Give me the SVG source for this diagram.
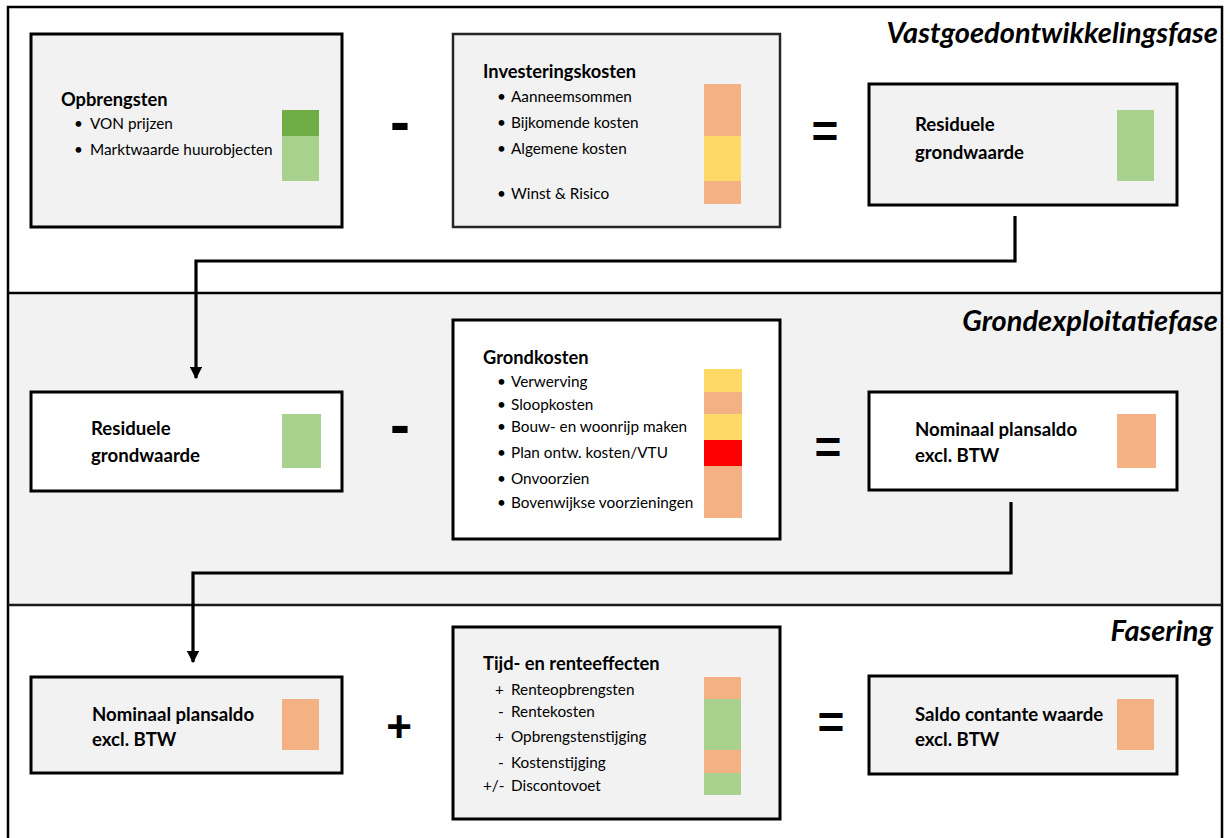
<svg xmlns="http://www.w3.org/2000/svg" width="1230" height="838" viewBox="0 0 1230 838">
<defs>
<style>
.frame{fill:none;stroke:#000;stroke-width:2.5}
.box{stroke:#000;stroke-width:3}
.grey{fill:#f2f2f2}
.white{fill:#fff}
.t{font-family:Lato,"Open Sans","Liberation Sans",sans-serif;fill:#000}
.h{font-size:18.3px;font-weight:bold}
.i{font-size:15.3px}
.b{font-size:18.6px;font-weight:bold}
.phase{font-size:29px;font-weight:bold;font-style:italic;text-anchor:end}
.op{font-family:"Liberation Sans",sans-serif;font-weight:bold;text-anchor:middle}
.conn{fill:none;stroke:#000;stroke-width:3.2}
.g1{fill:#70ad47}.g2{fill:#a9d18e}.o{fill:#f4b183}.y{fill:#ffd966}.r{fill:#ff0000}
</style>
<marker id="arr" viewBox="0 0 10 10" refX="9" refY="5" markerWidth="3.8" markerHeight="3.8" orient="auto" markerUnits="strokeWidth">
<path d="M0,0 L10,5 L0,10 z" fill="#000"/>
</marker>
</defs>
<rect x="0" y="0" width="1230" height="838" fill="#fff"/>
<g id="sections">
<rect x="8" y="293" width="1214" height="312" fill="#f2f2f2"/>
<rect x="8" y="7" width="1214" height="840" class="frame"/>
<line x1="8" y1="293" x2="1222" y2="293" stroke="#000" stroke-width="2.5"/>
<line x1="8" y1="605" x2="1222" y2="605" stroke="#1a1a1a" stroke-width="2.5"/>
<text class="t phase" x="1218" y="43">Vastgoedontwikkelingsfase</text>
<text class="t phase" x="1218" y="331">Grondexploitatiefase</text>
<text class="t phase" x="1213" y="641">Fasering</text>
</g>
<g id="connectors">
<polyline class="conn" points="1015,216 1015,261 196,261 196,378" marker-end="url(#arr)"/>
<polyline class="conn" points="1011,502 1011,573 193,573 193,662" marker-end="url(#arr)"/>
</g>
<g id="opbrengsten">
<rect x="31" y="34" width="311" height="193" class="box grey"/>
<text class="t h" x="61" y="106">Opbrengsten</text>
<text class="t i" x="74" y="129">•</text><text class="t i" x="90" y="129">VON prijzen</text>
<text class="t i" x="74" y="155">•</text><text class="t i" x="90" y="155">Marktwaarde huurobjecten</text>
<rect x="282" y="110" width="37" height="26" class="g1"/>
<rect x="282" y="136" width="37" height="45" class="g2"/>
</g>
<g id="minus1"><text class="op" x="400" y="142" font-size="60">-</text></g>
<g id="investeringskosten">
<rect x="453" y="34" width="327" height="193" class="grey" stroke="#262626" stroke-width="2.5"/>
<text class="t h" x="483" y="78">Investeringskosten</text>
<text class="t i" x="497" y="102">•</text><text class="t i" x="511" y="102">Aanneemsommen</text>
<text class="t i" x="497" y="128">•</text><text class="t i" x="511" y="128">Bijkomende kosten</text>
<text class="t i" x="497" y="154">•</text><text class="t i" x="511" y="154">Algemene kosten</text>
<text class="t i" x="497" y="199">•</text><text class="t i" x="511" y="199">Winst &amp; Risico</text>
<rect x="704" y="84" width="37" height="52" class="o"/>
<rect x="704" y="136" width="37" height="45" class="y"/>
<rect x="704" y="181" width="37" height="23" class="o"/>
</g>
<g id="eq1"><text class="op" x="825" y="147" font-size="46">=</text></g>
<g id="residuele1">
<rect x="869" y="84" width="308" height="121" class="box grey"/>
<text class="t b" x="915" y="131">Residuele</text>
<text class="t b" x="915" y="159">grondwaarde</text>
<rect x="1117" y="110" width="37" height="71" class="g2"/>
</g>
<g id="residuele2">
<rect x="31" y="392" width="311" height="99" class="box white"/>
<text class="t b" x="91" y="435">Residuele</text>
<text class="t b" x="91" y="462">grondwaarde</text>
<rect x="282" y="414" width="39" height="54" class="g2"/>
</g>
<g id="minus2"><text class="op" x="400" y="445" font-size="60">-</text></g>
<g id="grondkosten">
<rect x="453" y="320" width="327" height="219" class="box white"/>
<text class="t h" x="483" y="364">Grondkosten</text>
<text class="t i" x="497" y="387">•</text><text class="t i" x="511" y="387">Verwerving</text>
<text class="t i" x="497" y="410">•</text><text class="t i" x="511" y="410">Sloopkosten</text>
<text class="t i" x="497" y="432">•</text><text class="t i" x="511" y="432">Bouw- en woonrijp maken</text>
<text class="t i" x="497" y="458">•</text><text class="t i" x="511" y="458">Plan ontw. kosten/VTU</text>
<text class="t i" x="497" y="484">•</text><text class="t i" x="511" y="484">Onvoorzien</text>
<text class="t i" x="497" y="508">•</text><text class="t i" x="511" y="508">Bovenwijkse voorzieningen</text>
<rect x="704" y="369" width="38" height="23" class="y"/>
<rect x="704" y="392" width="38" height="22" class="o"/>
<rect x="704" y="414" width="38" height="26" class="y"/>
<rect x="704" y="440" width="38" height="26" class="r"/>
<rect x="704" y="466" width="38" height="52" class="o"/>
</g>
<g id="eq2"><text class="op" x="828" y="463" font-size="46">=</text></g>
<g id="nominaal1">
<rect x="869" y="392" width="308" height="98" class="box white"/>
<text class="t b" x="915" y="436">Nominaal plansaldo</text>
<text class="t b" x="915" y="462">excl. BTW</text>
<rect x="1117" y="414" width="39" height="54" class="o"/>
</g>
<g id="nominaal2">
<rect x="31" y="677" width="311" height="96" class="box grey"/>
<text class="t b" x="92" y="721">Nominaal plansaldo</text>
<text class="t b" x="92" y="746">excl. BTW</text>
<rect x="282" y="699" width="37" height="51" class="o"/>
</g>
<g id="plus"><text class="op" x="399" y="742" font-size="44">+</text></g>
<g id="tijdrente">
<rect x="453" y="627" width="327" height="192" class="box grey"/>
<text class="t h" x="483" y="670">Tijd- en renteeffecten</text>
<text class="t i" x="495" y="695">+</text><text class="t i" x="511" y="695">Renteopbrengsten</text>
<text class="t i" x="498" y="717">-</text><text class="t i" x="511" y="717">Rentekosten</text>
<text class="t i" x="495" y="742">+</text><text class="t i" x="511" y="742">Opbrengstenstijging</text>
<text class="t i" x="498" y="768">-</text><text class="t i" x="511" y="768">Kostenstijging</text>
<text class="t i" x="483" y="791">+/-</text><text class="t i" x="511" y="791">Discontovoet</text>
<rect x="704" y="677" width="37" height="22" class="o"/>
<rect x="704" y="699" width="37" height="51" class="g2"/>
<rect x="704" y="750" width="37" height="23" class="o"/>
<rect x="704" y="773" width="37" height="22" class="g2"/>
</g>
<g id="eq3"><text class="op" x="831" y="738" font-size="46">=</text></g>
<g id="saldo">
<rect x="869" y="676" width="308" height="98" class="box grey"/>
<text class="t b" x="915" y="721">Saldo contante waarde</text>
<text class="t b" x="915" y="746">excl. BTW</text>
<rect x="1117" y="699" width="37" height="51" class="o"/>
</g>
</svg>
